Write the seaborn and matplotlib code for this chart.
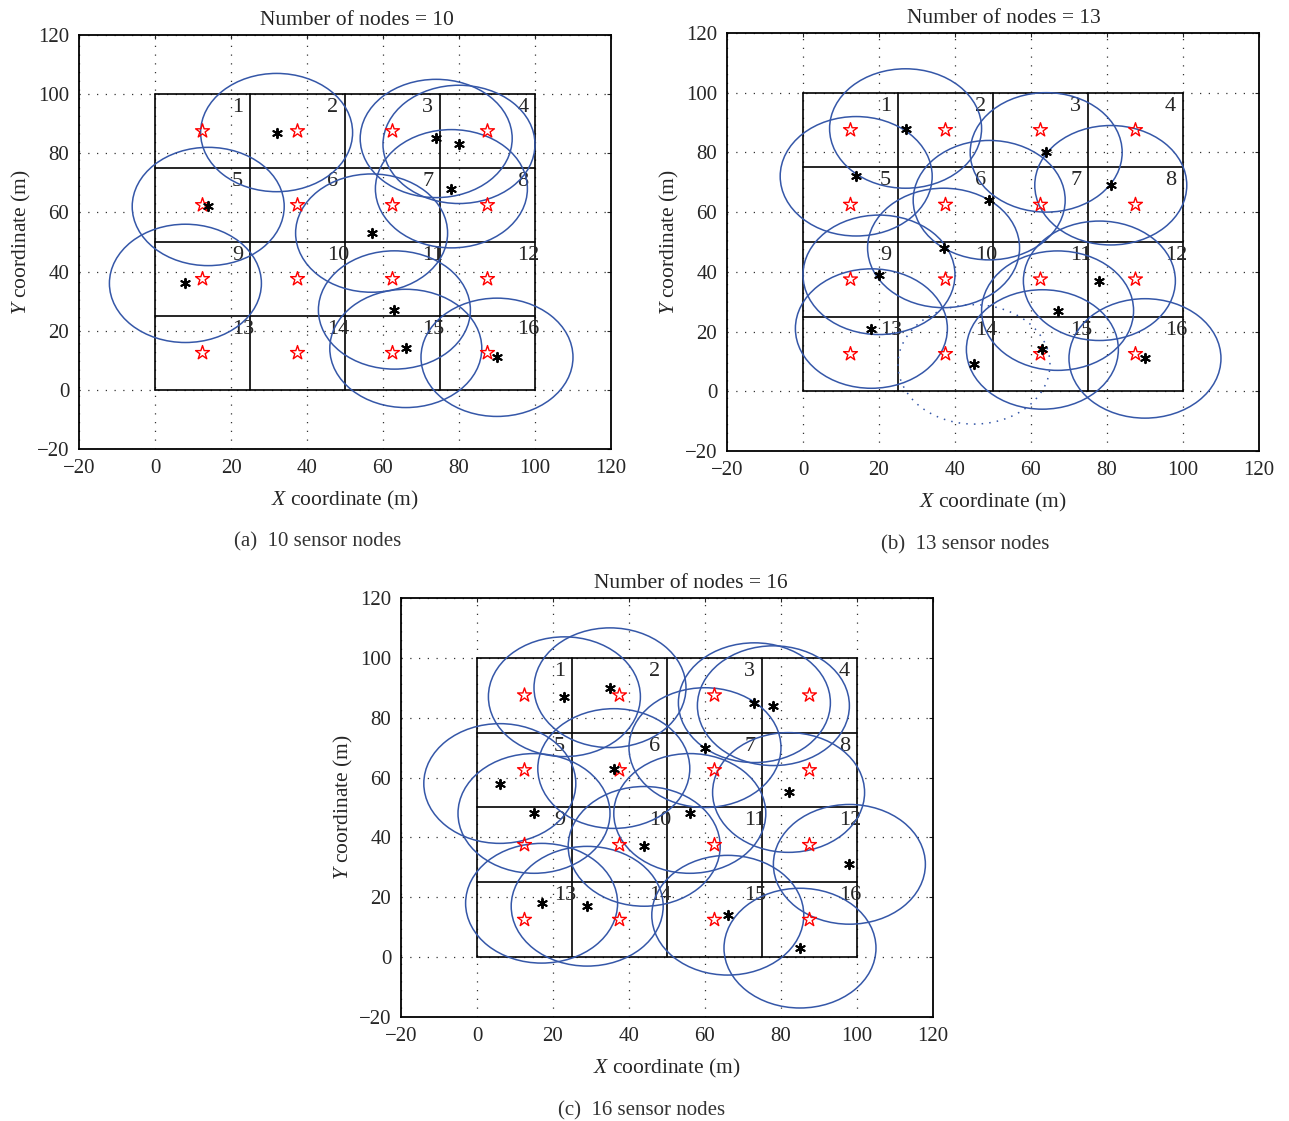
import matplotlib
matplotlib.use("Agg")
import matplotlib.pyplot as plt
from matplotlib.patches import Circle
import seaborn as sns
import pandas as pd

# cell centres (red stars) and cell labels
centers = [12.5, 37.5, 62.5, 87.5]
cell_edges = [0, 25, 50, 75, 100]
RADIUS = 20

# sensor node positions
nodes_10_x = [32, 74, 80, 78, 14, 57, 8, 63, 66, 90]
nodes_10_y = [87, 85, 83, 68, 62, 53, 36, 27, 14, 11]

nodes_13_x = [27, 64, 14, 81, 49, 37, 20, 78, 67, 18, 63, 45, 90]
nodes_13_y = [88, 80, 72, 69, 64, 48, 39, 37, 27, 21, 14, 9, 11]
dotted_13 = [45]  # node whose range circle is drawn dotted

nodes_16_x = [23, 35, 73, 78, 60, 36, 6, 82, 15, 56, 44, 98, 17, 29, 66, 85]
nodes_16_y = [87, 90, 85, 84, 70, 63, 58, 55, 48, 48, 37, 31, 18, 17, 14, 3]

titles = ["Number of nodes = 10", "Number of nodes = 13", "Number of nodes = 16"]
captions = ["(a)  10 sensor nodes", "(b)  13 sensor nodes", "(c)  16 sensor nodes"]

sns.set_style("white")
plt.rcParams["font.family"] = ["Liberation Serif", "DejaVu Serif"]
plt.rcParams["font.size"] = 15
plt.rcParams["axes.unicode_minus"] = False
plt.rcParams["mathtext.fontset"] = "custom"
plt.rcParams["mathtext.rm"] = "Liberation Serif"
plt.rcParams["mathtext.it"] = "Liberation Serif:italic"

CIRCLE_COLOR = "#3557a8"

fig = plt.figure(figsize=(12.89, 11.21), dpi=100)
boxes = [
    [0.0613, 0.5995, 0.4127, 0.3693],
    [0.5640, 0.5977, 0.4127, 0.3729],
    [0.3111, 0.0928, 0.4127, 0.3738],
]
title_x = [0.523, 0.521, 0.545]
caption_x = [0.449, 0.447, 0.453]
panels = [
    (nodes_10_x, nodes_10_y, []),
    (nodes_13_x, nodes_13_y, dotted_13),
    (nodes_16_x, nodes_16_y, []),
]

star_x = [cx for cy in centers[::-1] for cx in centers]
star_y = [cy for cy in centers[::-1] for cx in centers]

for i, (nx_, ny_, dotted) in enumerate(panels):
    ax = fig.add_axes(boxes[i])
    ax.set_xlim(-20, 120)
    ax.set_ylim(-20, 120)
    ticks = list(range(-20, 121, 20))
    ax.set_xticks(ticks)
    ax.set_yticks(ticks)
    ax.set_xticklabels([str(t).replace("-", "\u2212") for t in ticks])
    ax.set_yticklabels([str(t).replace("-", "\u2212") for t in ticks])
    ax.grid(True, linestyle=(0, (1, 6)), color="#333333", linewidth=0.9)
    ax.tick_params(direction="in", length=3, top=True, right=True, pad=7,
                   labelsize=15)
    for s in ax.spines.values():
        s.set_color("black")
        s.set_linewidth(1.3)

    # 4x4 cell grid
    for e in cell_edges:
        ax.plot([e, e], [0, 100], color="black", lw=1.2, zorder=2)
        ax.plot([0, 100], [e, e], color="black", lw=1.2, zorder=2)

    # cell numbers
    k = 1
    for r in range(4):
        for c in range(4):
            ax.text(25 * c + 20.3, 100 - 25 * r - 4.5, str(k), ha="left",
                    va="center", fontsize=16, zorder=3)
            k += 1

    # coverage circles
    for x, y in zip(nx_, ny_):
        ls = (0, (1, 4)) if x in dotted else "-"
        ax.add_patch(Circle((x, y), RADIUS, fill=False, ec=CIRCLE_COLOR,
                            lw=1.1, ls=ls, zorder=4))

    stars = pd.DataFrame({"x": star_x, "y": star_y})
    sns.scatterplot(data=stars, x="x", y="y", marker="*", s=110,
                    facecolor="none", edgecolor="red", linewidth=1.0,
                    ax=ax, zorder=5)
    nodes = pd.DataFrame({"x": nx_, "y": ny_})
    sns.scatterplot(data=nodes, x="x", y="y", marker=(6, 2, 0), s=45,
                    color="black", edgecolor="black", linewidth=1.4,
                    ax=ax, zorder=6)

    ax.set_title(titles[i], fontsize=15.5, pad=7, x=title_x[i])
    ax.set_xlabel("$\\mathit{X}$ coordinate (m)", fontsize=15.5, labelpad=8)
    ax.set_ylabel("$\\mathit{Y}$ coordinate (m)", fontsize=15.5, labelpad=3)
    ax.text(caption_x[i], -0.225, captions[i], transform=ax.transAxes,
            ha="center", va="center", fontsize=15, color="#333333")

fig.savefig("out.png", dpi=100)
